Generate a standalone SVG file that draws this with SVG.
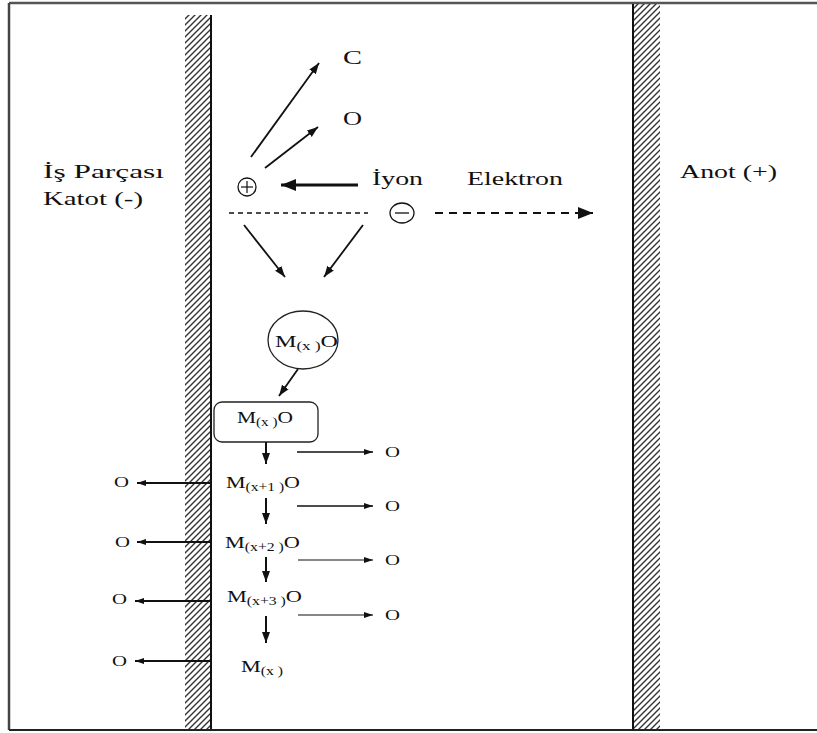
<svg xmlns="http://www.w3.org/2000/svg" width="817" height="733" viewBox="0 0 817 733">
  <defs>
    <pattern id="hatch" patternUnits="userSpaceOnUse" width="6" height="6">
      <path d="M-1,7 L7,-1 M-4,4 L4,-4 M2,10 L10,2" stroke="#333" stroke-width="1.4"/>
    </pattern>
    <marker id="ah" markerUnits="userSpaceOnUse" markerWidth="12" markerHeight="10" refX="11" refY="5" orient="auto">
      <path d="M0,1 L11,5 L0,9 Z" fill="#111"/>
    </marker>
    <marker id="ahs" markerUnits="userSpaceOnUse" markerWidth="10" markerHeight="8" refX="9" refY="4" orient="auto">
      <path d="M0,1 L9,4 L0,7 Z" fill="#111"/>
    </marker>
    <marker id="ahb" markerUnits="userSpaceOnUse" markerWidth="16" markerHeight="14" refX="15" refY="7" orient="auto">
      <path d="M0,1 L15,7 L0,13 Z" fill="#111"/>
    </marker>
  </defs>
  <style>
    .t { font-family: "Liberation Serif", "Times New Roman", serif; fill: #111; }
    .lbl { font-size: 18px; }
    .m { font-size: 17px; }
    .sub { font-size: 12px; }
    .o { font-size: 14px; }
    .ln { stroke: #111; fill: none; }
  </style>

  <rect width="817" height="733" fill="#fff"/>

  <!-- outer frame -->
  <g id="frame">
    <line x1="9" y1="3" x2="817" y2="3" stroke="#555" stroke-width="2.5"/>
    <line x1="9" y1="3" x2="9" y2="730" stroke="#444" stroke-width="2.5"/>
    <line x1="9" y1="730" x2="817" y2="730" stroke="#222" stroke-width="2"/>
  </g>

  <!-- cathode (workpiece) wall -->
  <g id="cathode">
    <rect x="185" y="15" width="26" height="714" fill="url(#hatch)"/>
    <line x1="211" y1="15" x2="211" y2="729" stroke="#111" stroke-width="2"/>
    <text class="t lbl" x="43" y="178" textLength="121" lengthAdjust="spacingAndGlyphs">İş Parçası</text>
    <text class="t lbl" x="43" y="205" textLength="100" lengthAdjust="spacingAndGlyphs">Katot (-)</text>
  </g>

  <!-- anode wall -->
  <g id="anode">
    <rect x="633" y="4" width="27" height="725" fill="url(#hatch)"/>
    <line x1="633" y1="4" x2="633" y2="729" stroke="#111" stroke-width="2"/>
    <text class="t lbl" x="680" y="178" textLength="97" lengthAdjust="spacingAndGlyphs">Anot (+)</text>
  </g>

  <!-- released species -->
  <g id="carbon"><text class="t lbl" x="343" y="64" textLength="19" lengthAdjust="spacingAndGlyphs">C</text></g>
  <g id="oxygen"><text class="t lbl" x="343" y="125" textLength="19" lengthAdjust="spacingAndGlyphs">O</text></g>

  <!-- positive ion -->
  <g id="ion">
    <circle cx="247" cy="187" r="9" fill="none" stroke="#111" stroke-width="1.3"/>
    <line x1="247" y1="181" x2="247" y2="193" stroke="#111" stroke-width="1.2"/>
    <line x1="241" y1="187" x2="253" y2="187" stroke="#111" stroke-width="1.2"/>
    <text class="t lbl" x="372" y="185" textLength="51" lengthAdjust="spacingAndGlyphs">İyon</text>
  </g>

  <!-- electron -->
  <g id="electron">
    <ellipse cx="402" cy="213" rx="12" ry="10" fill="none" stroke="#111" stroke-width="1.3"/>
    <line x1="395" y1="213" x2="409" y2="213" stroke="#111" stroke-width="1.3"/>
    <text class="t lbl" x="467" y="185" textLength="96" lengthAdjust="spacingAndGlyphs">Elektron</text>
  </g>

  <!-- oxide molecule -->
  <g id="oxide-molecule">
    <ellipse cx="303" cy="340" rx="35" ry="29" fill="none" stroke="#222" stroke-width="1.3"/>
    <text class="t m" x="275" y="347" textLength="63" lengthAdjust="spacingAndGlyphs">M<tspan class="sub" dy="3">(x )</tspan><tspan dy="-3">O</tspan></text>
  </g>

  <!-- oxide layer on surface -->
  <g id="oxide-layer">
    <rect x="214" y="402" width="104" height="40" rx="8" fill="#fff" stroke="#222" stroke-width="1.3"/>
    <text class="t m" x="237" y="423" textLength="56" lengthAdjust="spacingAndGlyphs">M<tspan class="sub" dy="3">(x )</tspan><tspan dy="-3">O</tspan></text>
  </g>

  <!-- reduction steps -->
  <g id="step1"><text class="t m" x="226" y="488" textLength="74" lengthAdjust="spacingAndGlyphs">M<tspan class="sub" dy="3">(x+1 )</tspan><tspan dy="-3">O</tspan></text></g>
  <g id="step2"><text class="t m" x="225" y="548" textLength="75" lengthAdjust="spacingAndGlyphs">M<tspan class="sub" dy="3">(x+2 )</tspan><tspan dy="-3">O</tspan></text></g>
  <g id="step3"><text class="t m" x="227" y="602" textLength="75" lengthAdjust="spacingAndGlyphs">M<tspan class="sub" dy="3">(x+3 )</tspan><tspan dy="-3">O</tspan></text></g>
  <g id="metal"><text class="t m" x="241" y="672" textLength="42" lengthAdjust="spacingAndGlyphs">M<tspan class="sub" dy="3">(x )</tspan></text></g>

  <!-- oxygen released into electrolyte -->
  <g id="o-right-1"><text class="t o" x="385" y="457" textLength="15" lengthAdjust="spacingAndGlyphs">O</text></g>
  <g id="o-right-2"><text class="t o" x="385" y="511" textLength="15" lengthAdjust="spacingAndGlyphs">O</text></g>
  <g id="o-right-3"><text class="t o" x="385" y="565" textLength="15" lengthAdjust="spacingAndGlyphs">O</text></g>
  <g id="o-right-4"><text class="t o" x="385" y="620" textLength="15" lengthAdjust="spacingAndGlyphs">O</text></g>

  <!-- oxygen released through the workpiece -->
  <g id="o-left-1"><text class="t o" x="114" y="487" textLength="15" lengthAdjust="spacingAndGlyphs">O</text></g>
  <g id="o-left-2"><text class="t o" x="115" y="547" textLength="15" lengthAdjust="spacingAndGlyphs">O</text></g>
  <g id="o-left-3"><text class="t o" x="112" y="604" textLength="15" lengthAdjust="spacingAndGlyphs">O</text></g>
  <g id="o-left-4"><text class="t o" x="112" y="666" textLength="15" lengthAdjust="spacingAndGlyphs">O</text></g>

  <!-- connectors -->
  <g id="connectors">
    <line class="ln" x1="251" y1="157" x2="319" y2="63" stroke-width="1.8" marker-end="url(#ah)"/>
    <line class="ln" x1="265" y1="168" x2="318" y2="127" stroke-width="1.8" marker-end="url(#ah)"/>
    <line class="ln" x1="358" y1="185" x2="281" y2="185" stroke-width="3" marker-end="url(#ahb)"/>
    <line class="ln" x1="229" y1="213" x2="368" y2="213" stroke-width="1.3" stroke-dasharray="5 4"/>
    <line class="ln" x1="435" y1="213" x2="593" y2="213" stroke-width="2" stroke-dasharray="8 6" marker-end="url(#ahb)"/>
    <line class="ln" x1="244" y1="225" x2="285" y2="277" stroke-width="1.8" marker-end="url(#ah)"/>
    <line class="ln" x1="363" y1="225" x2="324" y2="277" stroke-width="1.8" marker-end="url(#ah)"/>
    <line class="ln" x1="298" y1="369" x2="279" y2="396" stroke-width="1.8" marker-end="url(#ah)"/>

    <line class="ln" x1="266" y1="442" x2="266" y2="464" stroke-width="2" marker-end="url(#ah)"/>
    <line class="ln" x1="266" y1="498" x2="266" y2="524" stroke-width="2" marker-end="url(#ah)"/>
    <line class="ln" x1="266" y1="557" x2="266" y2="582" stroke-width="2" marker-end="url(#ah)"/>
    <line class="ln" x1="266" y1="616" x2="266" y2="643" stroke-width="2" marker-end="url(#ah)"/>

    <line class="ln" x1="297" y1="452" x2="373" y2="452" stroke-width="1.5" marker-end="url(#ahs)"/>
    <line class="ln" x1="297" y1="506" x2="373" y2="506" stroke-width="1.3" marker-end="url(#ahs)"/>
    <line class="ln" x1="298" y1="560" x2="373" y2="560" stroke-width="1.2" marker-end="url(#ahs)"/>
    <line class="ln" x1="298" y1="615" x2="373" y2="615" stroke-width="1.2" marker-end="url(#ahs)"/>

    <line class="ln" x1="211" y1="483" x2="137" y2="483" stroke-width="2" marker-end="url(#ahs)"/>
    <line class="ln" x1="211" y1="542" x2="137" y2="542" stroke-width="2" marker-end="url(#ahs)"/>
    <line class="ln" x1="211" y1="601" x2="135" y2="601" stroke-width="1.8" marker-end="url(#ahs)"/>
    <line class="ln" x1="211" y1="661" x2="135" y2="661" stroke-width="2.2" marker-end="url(#ahs)"/>
  </g>
</svg>
